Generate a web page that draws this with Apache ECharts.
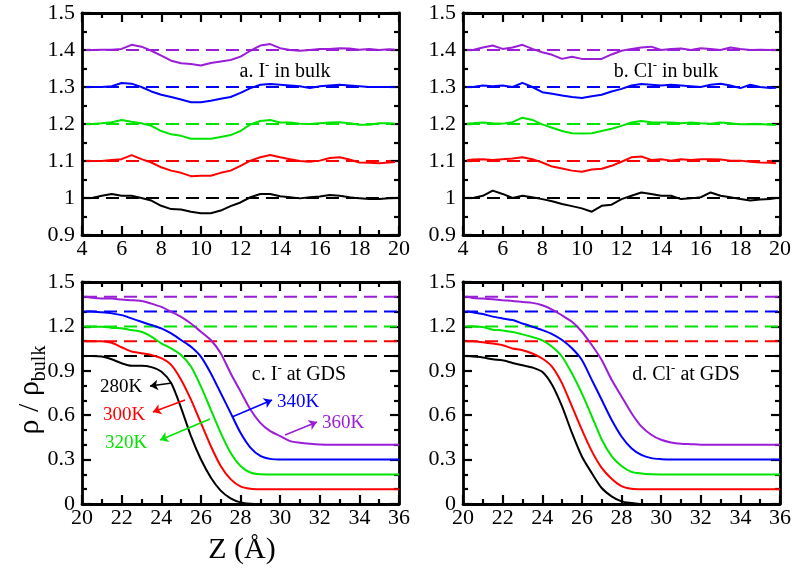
<!DOCTYPE html>
<html>
<head>
<meta charset="utf-8">
<script src="https://cdn.jsdelivr.net/npm/echarts@6/dist/echarts.min.js"></script>
<style>html,body{margin:0;padding:0;background:#fff;}#c{width:800px;height:576px;}</style>
</head>
<body>
<div id="c"></div>
<script>
// ---------- data ----------
const topX = [4.2,4.5,5,5.5,6,6.5,7,7.5,8,8.5,9,9.5,10,10.5,11,11.5,12,12.5,13,13.5,14,14.5,15,15.5,16,16.5,17,17.5,18,18.5,19,19.5,19.8];
const botX = [20.2,20.5,21,21.5,22,22.5,23,23.5,24,24.5,25,25.5,26,26.5,27,27.5,28,28.5,29,29.5,30,30.5,31,31.5,32,32.5,33,33.5,34,34.5,35,35.5,36];

const seriesNames = ['280K','300K','320K','340K','360K'];
const refLevels = [1.0,1.1,1.2,1.3,1.4];
const topDashX = [4.2,19.6];
const botDashX = [20.1,35.9];

// a. I- in bulk
const aBlack  = [1.0,1.0,1.006,1.011,1.006,1.006,1.0,0.993,0.979,0.970,0.969,0.963,0.959,0.959,0.966,0.978,0.988,1.002,1.011,1.011,1.005,1.002,0.999,1.002,1.004,1.008,1.006,1.002,0.999,0.997,0.997,0.999,1.0];
const aRed    = [1.10,1.10,1.10,1.103,1.105,1.116,1.105,1.096,1.083,1.074,1.068,1.059,1.06,1.06,1.068,1.074,1.087,1.101,1.11,1.116,1.11,1.105,1.10,1.098,1.101,1.108,1.11,1.104,1.096,1.095,1.094,1.096,1.097];
const aGreen  = [1.20,1.20,1.202,1.205,1.211,1.206,1.202,1.195,1.181,1.172,1.168,1.16,1.16,1.16,1.165,1.17,1.181,1.199,1.208,1.211,1.204,1.204,1.201,1.20,1.202,1.204,1.205,1.202,1.198,1.198,1.202,1.202,1.201];
const aBlue   = [1.30,1.30,1.30,1.302,1.311,1.309,1.30,1.288,1.279,1.273,1.266,1.259,1.259,1.263,1.268,1.273,1.284,1.297,1.306,1.308,1.306,1.304,1.302,1.297,1.302,1.304,1.306,1.304,1.302,1.30,1.30,1.30,1.30];
const aPurple = [1.40,1.40,1.401,1.401,1.403,1.414,1.409,1.398,1.385,1.371,1.364,1.362,1.358,1.365,1.369,1.373,1.382,1.398,1.412,1.416,1.405,1.40,1.398,1.40,1.403,1.403,1.405,1.404,1.401,1.403,1.40,1.402,1.401];

// b. Cl- in bulk
const bBlack  = [1.0,1.0,1.006,1.02,1.011,1.0,1.006,1.002,0.997,0.991,0.984,0.978,0.972,0.963,0.979,0.982,0.997,1.006,1.015,1.011,1.006,1.006,0.997,0.999,1.002,1.015,1.006,1.002,0.997,0.993,0.996,0.997,1.0];
const bRed    = [1.102,1.104,1.105,1.103,1.105,1.107,1.11,1.105,1.096,1.085,1.08,1.074,1.071,1.077,1.079,1.087,1.098,1.11,1.112,1.103,1.105,1.101,1.105,1.103,1.105,1.105,1.104,1.101,1.101,1.098,1.096,1.095,1.094];
const bGreen  = [1.201,1.202,1.204,1.202,1.201,1.205,1.217,1.211,1.199,1.19,1.181,1.175,1.174,1.175,1.181,1.187,1.195,1.204,1.208,1.205,1.204,1.204,1.202,1.204,1.202,1.201,1.204,1.202,1.199,1.199,1.20,1.198,1.197];
const bBlue   = [1.30,1.30,1.304,1.302,1.304,1.30,1.311,1.30,1.286,1.282,1.277,1.273,1.27,1.275,1.279,1.288,1.295,1.304,1.308,1.306,1.304,1.306,1.304,1.302,1.30,1.306,1.309,1.304,1.297,1.306,1.30,1.297,1.298];
const bPurple = [1.40,1.40,1.407,1.412,1.403,1.407,1.414,1.403,1.394,1.387,1.376,1.382,1.376,1.376,1.376,1.388,1.398,1.403,1.407,1.409,1.40,1.403,1.404,1.40,1.405,1.403,1.40,1.407,1.403,1.40,1.401,1.40,1.40];

// c. I- at GDS
const cBlack  = [1.0,1.0,0.996,0.978,0.951,0.934,0.934,0.925,0.895,0.817,0.65,0.459,0.302,0.179,0.09,0.038,0.011,0.002,0,0,0,0,0,0,0,0,0,0,0,0,0,0,0];
const cRed    = [1.10,1.10,1.10,1.089,1.059,1.030,1.019,1.007,0.985,0.940,0.840,0.705,0.548,0.392,0.257,0.168,0.119,0.103,0.1,0.1,0.1,0.1,0.1,0.1,0.1,0.1,0.1,0.1,0.1,0.1,0.1,0.1,0.1];
const cGreen  = [1.198,1.198,1.198,1.19,1.187,1.175,1.164,1.131,1.086,1.052,1.007,0.929,0.795,0.638,0.481,0.347,0.257,0.213,0.201,0.2,0.2,0.2,0.2,0.2,0.2,0.2,0.2,0.2,0.2,0.2,0.2,0.2,0.2];
const cBlue   = [1.30,1.30,1.295,1.288,1.276,1.254,1.231,1.209,1.187,1.153,1.108,1.063,0.996,0.884,0.75,0.616,0.481,0.381,0.325,0.305,0.301,0.3,0.3,0.3,0.3,0.3,0.3,0.3,0.3,0.3,0.3,0.3,0.3];
const cPurple = [1.40,1.393,1.388,1.388,1.381,1.377,1.372,1.354,1.332,1.299,1.265,1.22,1.164,1.108,1.019,0.884,0.761,0.638,0.548,0.492,0.459,0.425,0.414,0.407,0.402,0.4,0.4,0.4,0.4,0.4,0.4,0.4,0.4];

// d. Cl- at GDS
const dBlack  = [1.0,0.996,0.99,0.978,0.971,0.953,0.937,0.922,0.893,0.804,0.659,0.48,0.321,0.209,0.108,0.052,0.018,0.007,0,0,0,0,0,0,0,0,0,0,0,0,0,0,0];
const dRed    = [1.10,1.10,1.093,1.084,1.073,1.051,1.039,1.017,0.983,0.927,0.815,0.659,0.502,0.357,0.244,0.171,0.121,0.103,0.1,0.1,0.1,0.1,0.1,0.1,0.1,0.1,0.1,0.1,0.1,0.1,0.1,0.1,0.1];
const dGreen  = [1.20,1.20,1.196,1.178,1.173,1.162,1.146,1.128,1.106,1.062,0.995,0.882,0.748,0.593,0.436,0.324,0.257,0.217,0.206,0.201,0.2,0.2,0.2,0.2,0.2,0.2,0.2,0.2,0.2,0.2,0.2,0.2,0.2];
const dBlue   = [1.30,1.295,1.284,1.266,1.254,1.243,1.22,1.198,1.175,1.148,1.108,1.052,0.973,0.839,0.704,0.569,0.456,0.377,0.332,0.31,0.303,0.3,0.3,0.3,0.3,0.3,0.3,0.3,0.3,0.3,0.3,0.3,0.3];
const dPurple = [1.40,1.392,1.388,1.383,1.377,1.372,1.365,1.359,1.343,1.314,1.275,1.231,1.164,1.074,0.973,0.839,0.727,0.615,0.524,0.468,0.434,0.416,0.407,0.404,0.401,0.4,0.4,0.4,0.4,0.4,0.4,0.4,0.4];

// arrows in panel c (tail on curve -> head at label), data coords
const arrowsC = [
  [[24.54,0.818],[23.43,0.797]],
  [[25.20,0.703],[23.58,0.622]],
  [[26.46,0.574],[23.94,0.432]],
  [[27.57,0.588],[29.59,0.703]],
  [[30.25,0.466],[31.86,0.554]]
];

// ---------- layout / style ----------
const colors = ['#000000','#ff0000','#00e400','#0000ff','#9a1ed8'];
const FONT = 'Liberation Serif';
const grids = [
  {left:82, top:13, width:317, height:222},
  {left:463, top:13, width:317, height:222},
  {left:82, top:282, width:317, height:222},
  {left:463, top:282, width:317, height:222}
];
const panels = [
  {x: topX, ys: [aBlack,aRed,aGreen,aBlue,aPurple], dash: topDashX, xr:[4,20,2], yr:[0.9,1.5,0.1], ymin:2, smooth:false},
  {x: topX, ys: [bBlack,bRed,bGreen,bBlue,bPurple], dash: topDashX, xr:[4,20,2], yr:[0.9,1.5,0.1], ymin:2, smooth:false},
  {x: botX, ys: [cBlack,cRed,cGreen,cBlue,cPurple], dash: botDashX, xr:[20,36,2], yr:[0,1.5,0.3], ymin:3, smooth:0.25},
  {x: botX, ys: [dBlack,dRed,dGreen,dBlue,dPurple], dash: botDashX, xr:[20,36,2], yr:[0,1.5,0.3], ymin:3, smooth:0.25}
];

function axisCommon(showLabel, minorSplit, margin) {
  return {
    axisLine: {show:true, onZero:false, lineStyle:{color:'#000', width:2.8}},
    axisTick: {show:true, inside:true, length:9, lineStyle:{color:'#000', width:2.2}},
    minorTick: {show:true, splitNumber:minorSplit, length:5, lineStyle:{color:'#000', width:2.2}},
    splitLine: {show:false},
    minorSplitLine: {show:false},
    axisLabel: {show:showLabel, color:'#000', fontFamily:FONT, fontSize:22, margin:margin}
  };
}

const xAxis = [], yAxis = [], series = [];
panels.forEach((p, gi) => {
  ['bottom','top'].forEach((pos, k) => {
    xAxis.push(Object.assign({type:'value', gridIndex:gi, position:pos, min:p.xr[0], max:p.xr[1], interval:p.xr[2]}, axisCommon(k===0, 2, 3)));
  });
  ['left','right'].forEach((pos, k) => {
    yAxis.push(Object.assign({type:'value', gridIndex:gi, position:pos, min:p.yr[0], max:p.yr[1], interval:p.yr[2]}, axisCommon(k===0, p.ymin, 7)));
  });
  const xi = gi*2, yi = gi*2;
  // dashed references
  refLevels.forEach((lv, si) => {
    series.push({
      type:'line', xAxisIndex:xi, yAxisIndex:yi, symbol:'none', silent:true,
      lineStyle:{color:colors[si], width:2, type:[13,7]},
      data: p.dash.map(x => [x, lv])
    });
  });
  // curves
  p.ys.forEach((ys, si) => {
    const s = {
      type:'line', name:seriesNames[si], xAxisIndex:xi, yAxisIndex:yi, symbol:'none', silent:true,
      smooth:p.smooth, lineStyle:{color:colors[si], width:2},
      data: p.x.map((x, i) => [x, ys[i]])
    };
    if (gi === 2) {
      s.markLine = {
        silent:true, symbol:['none','arrow'], symbolSize:8, animation:false,
        label:{show:false}, lineStyle:{color:colors[si], width:1.5, type:'solid'},
        emphasis:{disabled:true},
        data:[[{coord:arrowsC[si][0]},{coord:arrowsC[si][1]}]]
      };
    }
    series.push(s);
  });
});

const supRich = {
  t:{fontFamily:FONT, fontSize:20, lineHeight:26, color:'#000', verticalAlign:'middle'},
  sup:{fontFamily:FONT, fontSize:13, lineHeight:13, color:'#000', verticalAlign:'top'}
};
function panelText(x, y, str) {
  return {type:'text', x:x, y:y, silent:true,
    style:{text:str, rich:supRich, align:'center', verticalAlign:'middle'}};
}
function annot(x, y, str, color) {
  return {type:'text', x:x, y:y, silent:true,
    style:{text:str, fill:color, fontFamily:FONT, fontSize:19, align:'center', verticalAlign:'middle'}};
}

const graphic = [
  panelText(285, 72, '{t|a. I}{sup|-}{t| in bulk}'),
  panelText(666, 72, '{t|b. Cl}{sup|-}{t| in bulk}'),
  panelText(299, 375, '{t|c. I}{sup|-}{t| at GDS}'),
  panelText(686, 375, '{t|d. Cl}{sup|-}{t| at GDS}'),
  annot(121, 387, '280K', colors[0]),
  annot(124, 415, '300K', colors[1]),
  annot(126, 443, '320K', colors[2]),
  annot(298, 402, '340K', colors[3]),
  annot(343, 423, '360K', colors[4]),
  {type:'text', x:242, y:550, silent:true,
    style:{text:'Z (Å)', fill:'#000', fontFamily:FONT, fontSize:30, align:'center', verticalAlign:'middle'}},
  {type:'text', x:30, y:390, rotation:Math.PI/2, silent:true,
    style:{text:'{m|ρ / ρ}{s|bulk}', align:'center', verticalAlign:'middle',
      rich:{m:{fontFamily:FONT, fontSize:30, lineHeight:40, color:'#000', verticalAlign:'middle'},
            s:{fontFamily:FONT, fontSize:20, lineHeight:20, color:'#000', verticalAlign:'bottom'}}}}
];

const chart = echarts.init(document.getElementById('c'), null, {renderer:'canvas'});
chart.setOption({
  animation:false,
  backgroundColor:'#ffffff',
  grid: grids,
  xAxis: xAxis,
  yAxis: yAxis,
  series: series,
  graphic: graphic
});
</script>
</body>
</html>
